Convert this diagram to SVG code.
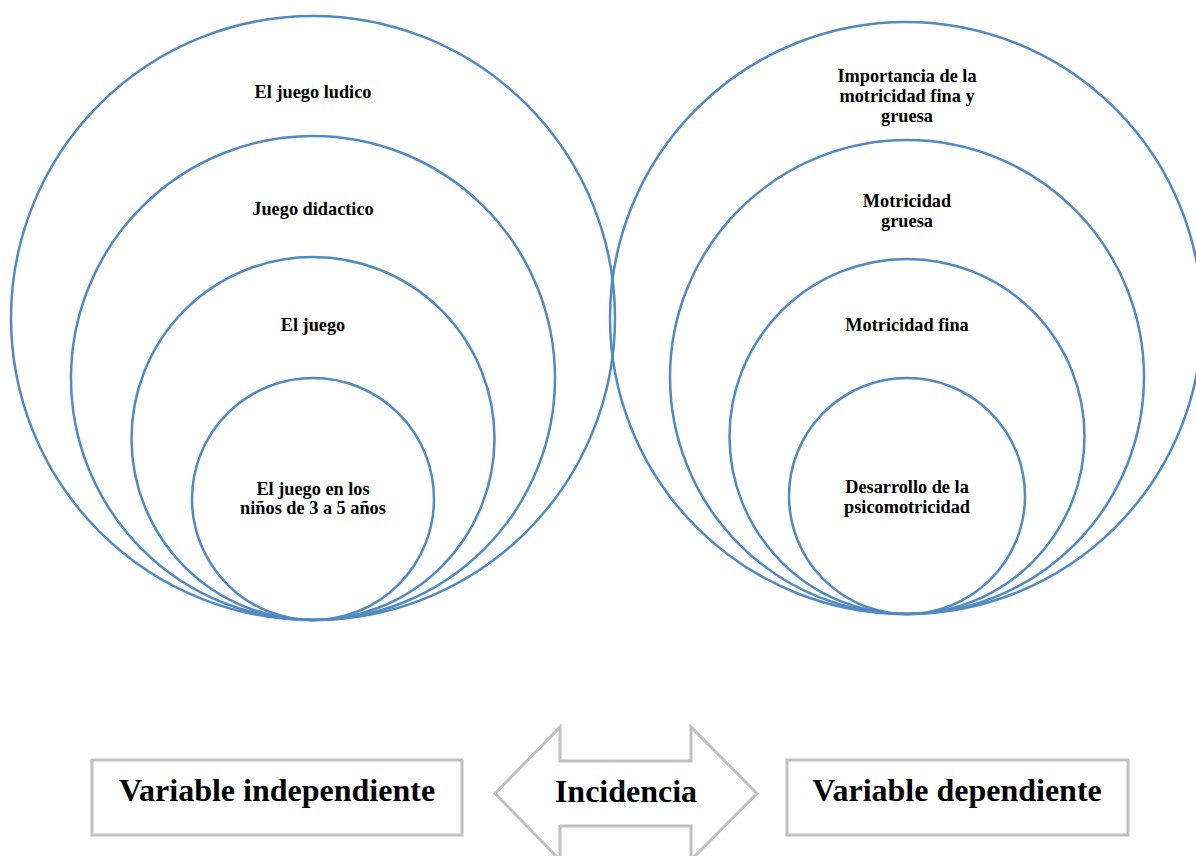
<svg xmlns="http://www.w3.org/2000/svg" width="1196" height="856" viewBox="0 0 1196 856">
<style>
.c{fill:none;stroke:#5189c3;stroke-width:2.5}
.t{font-family:"Liberation Serif","Times New Roman",serif;font-weight:bold;font-size:18.3px;text-anchor:middle;fill:#000}
.b{font-family:"Liberation Serif","Times New Roman",serif;font-weight:bold;font-size:32px;text-anchor:middle;fill:#000}
.g{fill:#fff;stroke:#c0c0c0;stroke-width:3}
</style>
<rect width="1196" height="856" fill="#fff"/>
<g id="left-set">
<g id="l1"><circle class="c" cx="313" cy="318" r="302"/><text class="t" x="313" y="98">El juego ludico</text></g>
<g id="l2"><circle class="c" cx="313" cy="378" r="242"/><text class="t" x="313" y="215">Juego didactico</text></g>
<g id="l3"><circle class="c" cx="313" cy="438.5" r="181.5"/><text class="t" x="313" y="331">El juego</text></g>
<g id="l4"><circle class="c" cx="313" cy="499" r="121"/><text class="t" x="313" y="495">El juego en los</text><text class="t" x="313" y="514">niños de 3 a 5 años</text></g>
</g>
<g id="right-set">
<g id="r1"><circle class="c" cx="906" cy="318" r="296"/><text class="t" x="907" y="82">Importancia de la</text><text class="t" x="907" y="102">motricidad fina y</text><text class="t" x="907" y="122">gruesa</text></g>
<g id="r2"><circle class="c" cx="907" cy="377" r="237"/><text class="t" x="907" y="207">Motricidad</text><text class="t" x="907" y="227">gruesa</text></g>
<g id="r3"><circle class="c" cx="907" cy="436.5" r="177.5"/><text class="t" x="907" y="331">Motricidad fina</text></g>
<g id="r4"><circle class="c" cx="907" cy="496" r="118"/><text class="t" x="907" y="493">Desarrollo de la</text><text class="t" x="907" y="513">psicomotricidad</text></g>
</g>
<g id="connectors">
<path class="g" d="M495,793.5 L560,727 L560,761 L691,761 L691,727 L757,793.5 L691,860 L691,826 L560,826 L560,860 Z"/>
</g>
<g id="incidencia"><text class="b" x="626" y="802">Incidencia</text></g>
<g id="var-indep"><rect class="g" x="92" y="760" width="370" height="75"/><text class="b" x="277" y="801">Variable independiente</text></g>
<g id="var-dep"><rect class="g" x="787" y="760" width="341" height="75"/><text class="b" x="957" y="801">Variable dependiente</text></g>
</svg>
